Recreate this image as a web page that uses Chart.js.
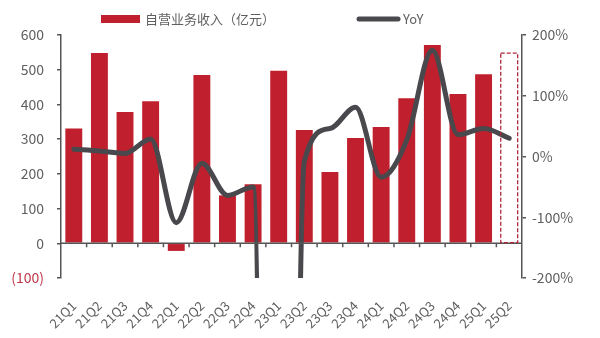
<!DOCTYPE html>
<html>
<head>
<meta charset="utf-8">
<script src="https://cdn.jsdelivr.net/npm/chart.js@4.4.1/dist/chart.umd.min.js"></script>
<style>body{margin:0;background:#fff}</style>
</head>
<body>
<canvas id="chart" width="600" height="338"></canvas>
<script>
// data
const quarters = ['21Q1','21Q2','21Q3','21Q4','22Q1','22Q2','22Q3','22Q4','23Q1','23Q2','23Q3','23Q4','24Q1','24Q2','24Q3','24Q4','25Q1','25Q2'];
const revenue = [331, 548, 378, 409, -22, 485, 138, 170, 497, 326, 205, 303, 335, 418, 571, 430, 487, null];
const revenueEst = [null, null, null, null, null, null, null, null, null, null, null, null, null, null, null, null, null, 548];
// 23Q1 is far off the scale (clipped)
const yoy = [12, 9, 5, 29, -109, -11, -64, -50, -3000, -8, 46, 81, -34, 27, 175, 36, 46, 30];
const leftRange = [-100, 600, 100];
const rightRange = [-200, 200, 100];

const barColor = '#C0202D';
const lineColor = '#48484D';
const axisColor = '#555';
const textColor = '#5f5f5f';
const font = '"Noto Sans CJK SC", "Noto Sans", sans-serif';

// zero line with category ticks
const zeroAxis = {
  id: 'zeroAxis',
  afterDatasetsDraw(chart) {
    const {ctx, chartArea, scales} = chart;
    const y0 = scales.y.getPixelForValue(0);
    const step = scales.x.getPixelForValue(1) - scales.x.getPixelForValue(0);
    ctx.save();
    ctx.strokeStyle = axisColor;
    ctx.lineWidth = 1.5;
    ctx.beginPath();
    ctx.moveTo(chartArea.left, y0);
    ctx.lineTo(chartArea.right, y0);
    for (let i = 1; i < quarters.length; i++) {
      const x = scales.x.getPixelForValue(i) - step / 2;
      ctx.moveTo(x, y0);
      ctx.lineTo(x, y0 + 4);
    }
    ctx.stroke();
    ctx.restore();
  }
};

// dashed outline for the estimate bar
const dashedBar = {
  id: 'dashedBar',
  afterDatasetsDraw(chart) {
    const meta = chart.getDatasetMeta(2);
    const ctx = chart.ctx;
    ctx.save();
    ctx.strokeStyle = '#B0283A';
    ctx.lineWidth = 1.3;
    ctx.setLineDash([4, 2]);
    meta.data.forEach((bar, i) => {
      if (revenueEst[i] == null) return;
      const w = bar.width;
      ctx.strokeRect(bar.x - w / 2, bar.y, w, bar.base - bar.y);
    });
    ctx.restore();
  }
};

const topLegend = {
  id: 'topLegend',
  afterDraw(chart) {
    const ctx = chart.ctx;
    const ds = chart.data.datasets;
    ctx.save();
    ctx.font = '13px ' + font;
    ctx.textBaseline = 'middle';
    ctx.fillStyle = barColor;
    ctx.fillRect(101, 15, 39, 8);
    ctx.fillStyle = textColor;
    ctx.fillText(ds[0].label, 145, 19);
    ctx.strokeStyle = lineColor;
    ctx.lineWidth = 5;
    ctx.lineCap = 'round';
    ctx.beginPath();
    ctx.moveTo(359, 19);
    ctx.lineTo(398, 19);
    ctx.stroke();
    ctx.fillText(ds[1].label, 403, 19);
    ctx.restore();
  }
};

new Chart(document.getElementById('chart').getContext('2d'), {
  type: 'bar',
  data: {
    labels: quarters,
    datasets: [
      {
        label: '自营业务收入（亿元）',
        data: revenue,
        backgroundColor: barColor,
        yAxisID: 'y',
        grouped: false,
        barPercentage: 0.66,
        categoryPercentage: 1,
        order: 2
      },
      {
        type: 'line',
        label: 'YoY',
        data: yoy,
        yAxisID: 'y1',
        borderColor: lineColor,
        borderWidth: 5,
        pointRadius: 0,
        cubicInterpolationMode: 'monotone',
        borderCapStyle: 'round',
        borderJoinStyle: 'round',
        order: 0
      },
      {
        label: '预测',
        data: revenueEst,
        backgroundColor: 'rgba(255,255,255,0)',
        yAxisID: 'y',
        grouped: false,
        barPercentage: 0.66,
        categoryPercentage: 1,
        order: 3
      }
    ]
  },
  options: {
    responsive: false,
    animation: false,
    layout: {padding: {top: 35}},
    plugins: {legend: {display: false}, tooltip: {enabled: false}},
    scales: {
      x: {
        grid: {display: false},
        border: {display: false},
        ticks: {
          color: textColor,
          font: {family: font, size: 13},
          minRotation: 45,
          maxRotation: 45,
          padding: 12,
          autoSkip: false
        },
        afterFit(s) { s.height = 60; }
      },
      y: {
        position: 'left',
        min: leftRange[0],
        max: leftRange[1],
        ticks: {
          stepSize: leftRange[2],
          padding: 13,
          font: {family: font, size: 14},
          color: c => c.tick.value < 0 ? '#C0394B' : textColor,
          callback: v => v < 0 ? '(' + (-v) + ')' : v
        },
        grid: {drawOnChartArea: false, tickLength: 4, color: axisColor, lineWidth: 1.5},
        border: {color: axisColor, width: 1.5},
        afterFit(s) { s.width = 61; }
      },
      y1: {
        position: 'right',
        min: rightRange[0],
        max: rightRange[1],
        ticks: {
          stepSize: rightRange[2],
          padding: 6,
          font: {family: font, size: 14},
          color: textColor,
          callback: v => v + '%'
        },
        grid: {drawOnChartArea: false, tickLength: 4, color: axisColor, lineWidth: 1.5},
        border: {color: axisColor, width: 1.5},
        afterFit(s) { s.width = 78; }
      }
    }
  },
  plugins: [zeroAxis, dashedBar, topLegend]
});
</script>
</body>
</html>
